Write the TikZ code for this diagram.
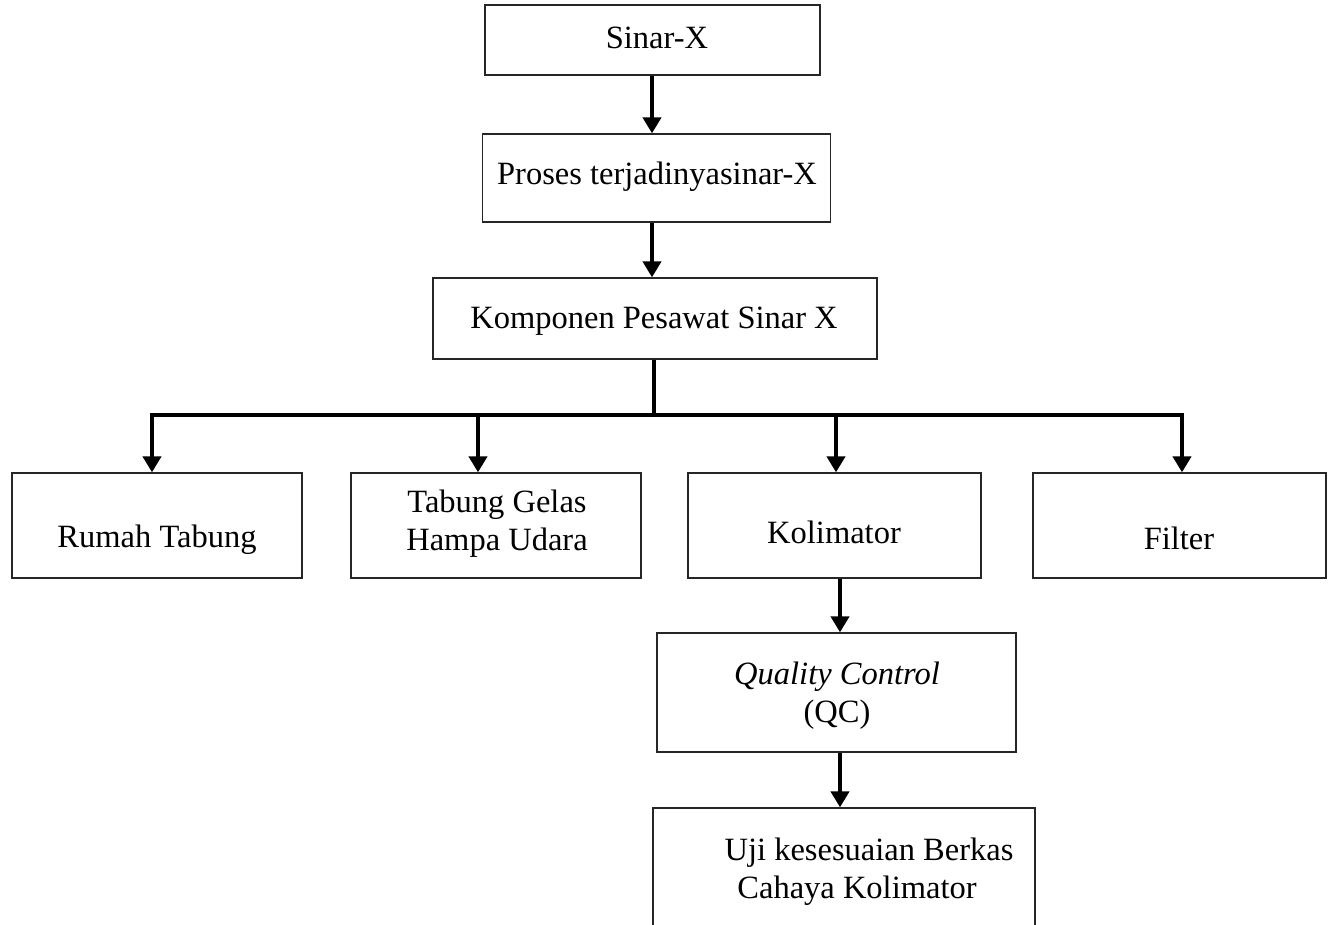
\documentclass[tikz,border=0pt]{standalone}
\usepackage{fontspec}
\setmainfont{Liberation Serif}
\usetikzlibrary{arrows.meta}
\begin{document}
\begin{tikzpicture}[x=1pt,y=-1pt,
  box/.style={draw=black!85, line width=1.3pt, inner sep=0pt, minimum width=#1},
  txt/.style={anchor=base, inner sep=0pt, align=center, font=\fontsize{32.5}{38}\selectfont},
  conn/.style={line width=4pt, draw=black, line join=miter},
  arr/.style={conn, -{Triangle[width=18pt,length=16pt]}},
  arrs/.style={conn, {Triangle[width=18pt,length=16pt]}-{Triangle[width=18pt,length=16pt]}}]
\useasboundingbox (0,0) rectangle (1329,924);
\clip (0,0) rectangle (1329,924);
% boxes
\node[box=335pt, minimum height=70pt]  (sinar)  at (652.5,40) {};
\node[box=348pt, minimum height=88pt]  (proses) at (656.5,178) {};
\node[box=444pt, minimum height=81pt]  (komp)   at (655,318.5) {};
\node[box=290pt, minimum height=105pt] (rumah)  at (157,525.5) {};
\node[box=290pt, minimum height=105pt] (tabung) at (496,525.5) {};
\node[box=293pt, minimum height=105pt] (koli)   at (834.5,525.5) {};
\node[box=293pt, minimum height=105pt] (filter) at (1179.5,525.5) {};
\node[box=359pt, minimum height=119pt] (qc)     at (836.5,692.5) {};
\node[box=382pt, minimum height=140pt] (uji)    at (844,878) {};
% texts
\node[txt] (tsinar)  at (657,48)  {Sinar-X};
\node[txt] (tproses) at (657,184) {Proses terjadinyasinar-X};
\node[txt] (tkomp)   at (654,328) {Komponen Pesawat Sinar X};
\node[txt] (trumah)  at (157,547) {Rumah Tabung};
\node[txt] (ttab1)   at (497,512) {Tabung Gelas};
\node[txt] (ttab2)   at (497,550) {Hampa Udara};
\node[txt] (tkoli)   at (834,543) {Kolimator};
\node[txt] (tfilter) at (1179,549) {Filter};
\node[txt] (tqc1)    at (837,684) {\itshape Quality Control};
\node[txt] (tqc2)    at (837,722) {(QC)};
\node[txt] (tuji1)   at (869,860) {Uji kesesuaian Berkas};
\node[txt] (tuji2)   at (857,898) {Cahaya Kolimator};
% connector coordinates
\coordinate (cx1) at (652,0);
\coordinate (cx2) at (654,0);
\coordinate (bus) at (654,415);
\coordinate (busL) at (152,415);
\coordinate (busT) at (478,415);
\coordinate (busK) at (836,415);
\coordinate (busR) at (1182,415);
\coordinate (cx3) at (840,0);
% connectors
\draw[arr] (sinar.south -| cx1) -- (proses.north -| cx1);
\draw[arr] (proses.south -| cx1) -- (komp.north -| cx1);
\draw[conn] (komp.south -| cx2) -- (bus);
\draw[arrs] (rumah.north -| busL) -- (busL) -- (busR) -- (filter.north -| busR);
\draw[arr] (busT) -- (tabung.north -| busT);
\draw[arr] (busK) -- (koli.north -| busK);
\draw[arr] (koli.south -| cx3) -- (qc.north -| cx3);
\draw[arr] (qc.south -| cx3) -- (uji.north -| cx3);
\end{tikzpicture}
\end{document}
